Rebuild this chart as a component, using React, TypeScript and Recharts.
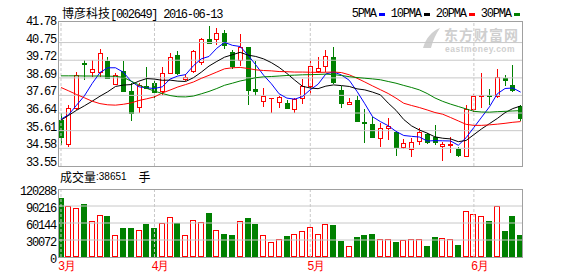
import { Bar, ComposedChart, Line, ReferenceLine, XAxis, YAxis } from "recharts";

const stockName = "博彦科技";
const stockCode = "002649";

const dates = [
  "2016-03-16", "2016-03-17", "2016-03-18", "2016-03-21", "2016-03-22", "2016-03-23",
  "2016-03-24", "2016-03-25", "2016-03-28", "2016-03-29", "2016-03-30", "2016-03-31",
  "2016-04-01", "2016-04-05", "2016-04-06", "2016-04-07", "2016-04-08", "2016-04-11",
  "2016-04-12", "2016-04-13", "2016-04-14", "2016-04-15", "2016-04-18", "2016-04-19",
  "2016-04-20", "2016-04-21", "2016-04-22", "2016-04-25", "2016-04-26", "2016-04-27",
  "2016-04-28", "2016-04-29", "2016-05-03", "2016-05-04", "2016-05-05", "2016-05-06",
  "2016-05-09", "2016-05-10", "2016-05-11", "2016-05-12", "2016-05-13", "2016-05-16",
  "2016-05-17", "2016-05-18", "2016-05-19", "2016-05-20", "2016-05-23", "2016-05-24",
  "2016-05-25", "2016-05-26", "2016-05-27", "2016-05-30", "2016-05-31", "2016-06-01",
  "2016-06-02", "2016-06-03", "2016-06-06", "2016-06-07", "2016-06-08", "2016-06-13",
];

const opens = [
  36.24, 34.82, 36.92, 39.55, 39.06, 39.06, 39.65, 38.34, 39.12, 37.9,
  37.02, 38.19, 38.42, 37.93, 39.0, 40.02, 38.65, 39.12, 39.59, 40.95,
  40.93, 41.32, 40.19, 39.71, 40.47, 38.03, 37.37, 37.49, 37.31, 37.21,
  36.88, 37.54, 38.19, 39.1, 39.36, 39.9, 37.99, 37.19, 37.39, 36.14,
  35.99, 35.21, 35.77, 35.52, 34.68, 34.54, 35.01, 35.4, 35.27, 34.74,
  34.78, 34.54, 34.15, 36.9, 37.62, 37.7, 37.66, 38.67, 38.25, 37.04,
];
const highs = [
  36.67, 37.08, 39.02, 39.71, 39.71, 40.39, 39.88, 38.97, 39.69, 38.38,
  38.42, 39.3, 38.62, 39.32, 40.13, 40.27, 38.91, 40.33, 41.01, 41.69,
  41.6, 41.5, 40.29, 41.26, 40.52, 39.65, 38.09, 37.51, 37.66, 37.41,
  37.51, 38.62, 39.69, 39.9, 40.29, 40.49, 38.23, 37.5, 37.64, 36.86,
  36.4, 36.04, 36.34, 35.6, 35.11, 35.17, 35.75, 35.5, 35.95, 34.97,
  35.27, 34.68, 37.08, 37.74, 38.97, 38.03, 39.2, 38.87, 39.45, 37.08,
];
const lows = [
  34.78, 34.66, 36.82, 38.58, 38.77, 38.77, 38.63, 38.28, 37.9, 36.18,
  36.67, 38.05, 37.37, 37.7, 38.91, 38.87, 38.48, 38.97, 39.45, 40.68,
  40.62, 40.37, 39.2, 39.36, 37.12, 37.64, 36.98, 36.63, 36.96, 36.88,
  36.63, 37.15, 37.66, 38.97, 39.06, 38.34, 36.96, 37.08, 36.14, 34.88,
  35.23, 34.64, 35.07, 34.15, 34.54, 34.1, 34.78, 34.84, 34.78, 33.84,
  34.29, 34.1, 34.15, 36.7, 36.96, 37.08, 37.5, 38.19, 37.89, 36.2,
];
const closes = [
  35.27, 36.92, 38.87, 39.49, 39.18, 40.17, 38.71, 38.87, 37.95, 36.67,
  38.28, 38.09, 37.89, 39.0, 39.88, 38.97, 38.77, 40.23, 40.93, 40.74,
  41.3, 40.62, 39.41, 40.52, 37.99, 37.9, 37.66, 37.51, 37.56, 36.96,
  37.47, 38.23, 39.36, 39.26, 39.94, 38.44, 37.21, 37.31, 36.18, 36.08,
  35.27, 35.79, 35.89, 34.68, 34.88, 34.97, 35.56, 34.93, 34.93, 34.82,
  34.82, 34.19, 36.88, 37.62, 37.68, 37.62, 38.77, 38.56, 37.99, 36.36,
];
const volumes = [
  104900, 90060, 86500, 94200, 63400, 74060, 72880, 38510, 51550, 51550,
  47400, 58660, 51550, 59840, 70500, 60440, 38510, 65200, 61620, 78200,
  47400, 40880, 39100, 63400, 69300, 58660, 38510, 26660, 31400, 37330,
  40290, 45620, 52730, 40290, 58660, 56290, 28440, 18960, 34960, 38510,
  40880, 31400, 31400, 26660, 29620, 31400, 31400, 19550, 34960, 33180,
  31400, 21330, 81170, 76430, 72290, 63990, 90060, 46220, 72880, 38651,
];

// moving averages as drawn on the chart
const ma5 = [
  36.28, 36.55, 37.1, 37.64, 38.36, 39.0, 39.28, 39.28, 39.02, 38.5,
  38.17, 38.11, 38.07, 38.17, 38.62, 38.8, 38.88, 39.4, 39.8, 39.94,
  40.42, 40.76, 40.59, 40.52, 40.02, 39.45, 38.85, 38.35, 37.76, 37.51,
  37.45, 37.6, 38.0, 38.32, 38.92, 39.03, 38.86, 38.55, 37.9, 37.18,
  36.42, 36.14, 35.9, 35.57, 35.33, 35.28, 35.24, 35.01, 35.03, 35.02,
  35.01, 34.76, 35.2, 35.8, 36.4, 37.0, 37.76, 38.07, 38.1, 37.86,
];
const ma10 = [
  36.22, 36.51, 36.8, 37.06, 37.33, 37.62, 37.88, 38.19, 38.27, 38.3,
  38.5, 38.65, 38.62, 38.55, 38.56, 38.5, 38.48, 38.7, 39.02, 39.38,
  39.65, 39.9, 40.04, 40.18, 40.02, 39.94, 39.8, 39.58, 39.3, 38.95,
  38.56, 38.2, 38.1, 38.06, 38.21, 38.28, 38.24, 38.19, 38.05, 37.99,
  37.86, 37.7, 37.22, 36.8, 36.26, 35.89, 35.65, 35.47, 35.25, 35.17,
  35.13, 34.97, 35.04, 35.38, 35.72, 36.02, 36.32, 36.66, 36.9, 37.05,
];
const ma20 = [
  38.13, 37.93, 37.72, 37.53, 37.33, 37.19, 37.12, 37.1, 37.15, 37.23,
  37.37, 37.47, 37.58, 37.81, 37.98, 38.16, 38.3, 38.45, 38.66, 38.84,
  39.03, 39.22, 39.28, 39.3, 39.24, 39.16, 39.12, 39.1, 39.06, 39.05,
  39.03, 39.03, 39.02, 39.01, 39.02, 39.03, 39.0, 38.87, 38.67, 38.45,
  38.22, 38.0, 37.78, 37.51, 37.21, 37.08, 36.96, 36.82, 36.67, 36.57,
  36.38, 36.18, 35.98, 35.92, 35.92, 35.95, 35.99, 36.04, 36.1, 36.14,
];
const ma30 = [
  38.81, 38.81, 38.81, 38.8, 38.8, 38.8, 38.79, 38.78, 38.72, 38.5,
  38.28, 38.08, 37.92, 37.78, 37.66, 37.59, 37.58, 37.63, 37.76, 37.9,
  38.07, 38.26, 38.38, 38.51, 38.6, 38.7, 38.75, 38.77, 38.8, 38.83,
  38.85, 38.87, 38.88, 38.89, 38.91, 38.88, 38.83, 38.76, 38.71, 38.67,
  38.63, 38.58, 38.48, 38.38, 38.25, 38.13, 37.99, 37.78, 37.52, 37.32,
  37.16, 37.02, 36.88, 36.74, 36.7, 36.69, 36.72, 36.74, 36.76, 36.78,
];

const priceTicks = [33.55, 34.58, 35.61, 36.64, 37.67, 38.69, 39.72, 40.75, 41.78];
const volumeTicks = [0, 30072, 60144, 90216, 120288];

const RED = "#ff0000";
const GREEN = "#008000";
const GRID = "#c8c8c8";
const MONO = "'Liberation Mono', 'DejaVu Sans Mono', monospace";
const CJK = "'Noto Sans CJK SC', sans-serif";

const maSeries = [
  { key: "ma5", name: "5PMA", color: "#0000ff" },
  { key: "ma10", name: "10PMA", color: "#000000" },
  { key: "ma20", name: "20PMA", color: RED },
  { key: "ma30", name: "30PMA", color: GREEN },
];

const rows = dates.map((date, i) => ({
  i,
  date,
  open: opens[i],
  high: highs[i],
  low: lows[i],
  close: closes[i],
  vol: volumes[i],
  ma5: ma5[i],
  ma10: ma10[i],
  ma20: ma20[i],
  ma30: ma30[i],
}));

const monthStarts = rows
  .filter((r, i) => i === 0 || r.date.slice(5, 7) !== dates[i - 1].slice(5, 7))
  .map((r) => r.i);

const X_DOMAIN = [-0.32, 59.24];

function Candle(props: any) {
  const { x, y, width, height, payload } = props;
  if (x == null || !payload) return null;
  const { open, close, high, low } = payload;
  const up = close >= open;
  const color = up ? RED : GREEN;
  const top = height < 0 ? y + height : y;
  const h = Math.abs(height);
  const span = high - low;
  const py = (v: number) => (span > 0 ? top + ((high - v) / span) * h : top);
  const col = Math.floor(x + width / 2);
  const bTop = Math.round(py(Math.max(open, close)));
  const bBot = Math.round(py(Math.min(open, close)));
  return (
    <g>
      <line x1={col + 0.5} x2={col + 0.5} y1={Math.round(py(high))} y2={Math.round(py(low))} stroke={color} />
      {bBot - bTop < 1 ? (
        <line x1={col - 2} x2={col + 3} y1={bTop + 0.5} y2={bTop + 0.5} stroke={color} />
      ) : (
        <rect x={col - 1.5} y={bTop + 0.5} width={4} height={bBot - bTop} fill={up ? "#fff" : color} stroke={color} />
      )}
    </g>
  );
}

function VolBar(props: any) {
  const { x, y, width, height, payload } = props;
  if (x == null || !payload) return null;
  const up = payload.close >= payload.open;
  const color = up ? RED : GREEN;
  const col = Math.floor(x + width / 2);
  const t = Math.round(y);
  const b = Math.round(y + height);
  return (
    <rect x={col - 2.5} y={t + 0.5} width={5} height={Math.max(b - t - 1, 1)} fill={up ? "#fff" : color} stroke={color} />
  );
}

const tickText = { fontFamily: MONO, fontSize: 12, letterSpacing: -1.2, fill: "#000" };

function PriceTick({ y, payload }: any) {
  return (
    <text x={56} y={y - 3} textAnchor="end" dominantBaseline="central" style={tickText}>
      {payload.value.toFixed(2)}
    </text>
  );
}

function VolTick({ y, payload }: any) {
  return (
    <text x={56} y={y + 3} textAnchor="end" dominantBaseline="central" style={tickText}>
      {String(payload.value)}
    </text>
  );
}

function MonthTick({ x, y, payload }: any) {
  const m = Number(dates[payload.value].slice(5, 7));
  return (
    <text x={x - 3} y={y + 2} dominantBaseline="central" style={{ ...tickText, fill: RED }}>
      {m}月
    </text>
  );
}

const abs = (left: number, top: number): React.CSSProperties => ({ position: "absolute", left, top });

export default function App() {
  const lastVol = volumes[volumes.length - 1];
  return (
    <div style={{ position: "absolute", left: 0, top: 0, width: 578, height: 276, background: "#fff", overflow: "hidden" }}>
      {/* watermark */}
      <svg style={abs(418, 24)} width={30} height={28}>
        <path d="M5 24 C8 14, 14 7, 22 4 C18 10, 15 16, 13 24 Z" fill="#d0d0d0" />
      </svg>
      <div style={{ ...abs(444, 27), fontFamily: CJK, fontSize: 14, fontWeight: 700, color: "#cfcfcf", lineHeight: "14px", whiteSpace: "nowrap", letterSpacing: 1 }}>
        东方财富网
      </div>
      <div style={{ ...abs(445, 45), fontFamily: "'Liberation Sans', sans-serif", fontSize: 8.5, fontWeight: 700, color: "#cfcfcf", lineHeight: "9px", whiteSpace: "nowrap", letterSpacing: 0.5 }}>
        eastmoney.com
      </div>

      <div style={abs(0, 0)}>
        <ComposedChart width={578} height={170} data={rows} margin={{ top: 22, right: 55.5, bottom: 4, left: 0 }}>
          <XAxis dataKey="i" type="number" domain={X_DOMAIN} allowDataOverflow hide />
          <YAxis
            domain={[33.55, 41.95]}
            ticks={priceTicks}
            interval={0}
            allowDataOverflow
            width={58.5}
            axisLine={false}
            tickLine={false}
            tick={(p: any) => <PriceTick {...p} />}
          />
          {priceTicks.slice(1, -1).map((v) => (
            <ReferenceLine key={v} y={v} stroke={GRID} />
          ))}
          {monthStarts.map((i) => (
            <ReferenceLine key={i} x={i} stroke={GRID} strokeDasharray="3 2" />
          ))}
          <Bar dataKey={(d: any) => [d.low, d.high]} barSize={6} shape={(p: any) => <Candle {...p} />} isAnimationActive={false} />
          {maSeries.map((s) => (
            <Line
              key={s.key}
              dataKey={s.key}
              type="linear"
              stroke={s.color}
              strokeWidth={1}
              dot={false}
              activeDot={false}
              isAnimationActive={false}
            />
          ))}
        </ComposedChart>
      </div>

      <div style={abs(0, 170)}>
        <ComposedChart width={578} height={106} data={rows} margin={{ top: 19, right: 55.5, bottom: 0, left: 0 }}>
          <XAxis
            dataKey="i"
            type="number"
            domain={X_DOMAIN}
            allowDataOverflow
            ticks={monthStarts}
            interval={0}
            height={19}
            axisLine={false}
            tickLine={false}
            tick={(p: any) => <MonthTick {...p} />}
          />
          <YAxis
            domain={[0, 120288]}
            ticks={volumeTicks}
            interval={0}
            allowDataOverflow
            width={58.5}
            axisLine={false}
            tickLine={false}
            tick={(p: any) => <VolTick {...p} />}
          />
          {volumeTicks.slice(1, -1).map((v) => (
            <ReferenceLine key={v} y={v} stroke={GRID} />
          ))}
          {monthStarts.map((i) => (
            <ReferenceLine key={i} x={i} stroke={GRID} strokeDasharray="3 2" />
          ))}
          <Bar dataKey="vol" barSize={6} shape={(p: any) => <VolBar {...p} />} isAnimationActive={false} />
        </ComposedChart>
      </div>

      {/* plot frames */}
      <div style={{ ...abs(58, 21), width: 465, height: 146, border: "1px solid #a0a0a0", boxSizing: "border-box", pointerEvents: "none" }} />
      <div style={{ ...abs(58, 189), width: 465, height: 69, border: "1px solid #a0a0a0", boxSizing: "border-box", pointerEvents: "none" }} />

      {/* title */}
      <div style={{ ...abs(62, 6), fontSize: 12, lineHeight: "14px", whiteSpace: "nowrap", color: "#000" }}>
        <span style={{ fontFamily: CJK }}>{stockName}</span>
        <span style={{ fontFamily: MONO, letterSpacing: -1.3 }}>
          [{stockCode}] {dates[dates.length - 1]}
        </span>
      </div>

      {/* legend */}
      <div style={{ ...abs(351.7, 7), display: "flex", alignItems: "center", fontFamily: MONO, fontSize: 12, letterSpacing: -1.2, lineHeight: "14px", whiteSpace: "nowrap" }}>
        {maSeries.map((s) => (
          <span key={s.key} style={{ display: "flex", alignItems: "center" }}>
            <span>{s.name}</span>
            <span style={{ display: "inline-block", width: 6, height: 3, background: s.color, marginLeft: 3, marginRight: 6 }} />
          </span>
        ))}
      </div>

      {/* volume caption */}
      <div style={{ ...abs(60, 170), fontSize: 12, lineHeight: "14px", whiteSpace: "nowrap", color: "#000", display: "flex", alignItems: "center" }}>
        <span style={{ fontFamily: CJK }}>成交量</span>
        <span style={{ fontFamily: "'Liberation Sans', sans-serif", fontSize: 10 }}>:{lastVol}</span>
        <span style={{ fontFamily: CJK, marginLeft: 12 }}>手</span>
      </div>
    </div>
  );
}
